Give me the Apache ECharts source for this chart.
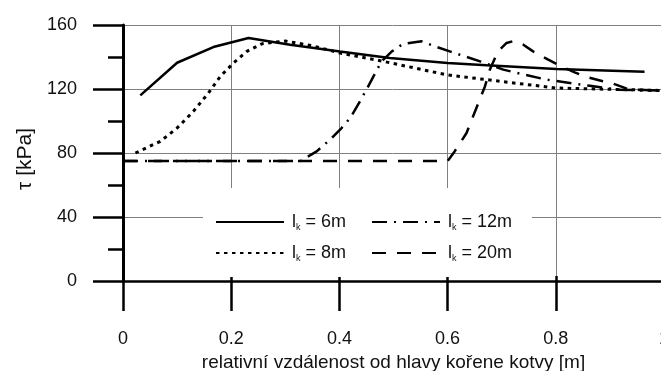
<!DOCTYPE html>
<html>
<head>
<meta charset="utf-8">
<script src="https://cdn.jsdelivr.net/npm/echarts@6/dist/echarts.min.js"></script>
<style>
  html, body { margin: 0; padding: 0; background: #fff; }
  #chart { width: 661px; height: 371px; }
</style>
</head>
<body>
<div id="chart"></div>
<script>
// l_k = 6m
var x6 = [0.032, 0.1, 0.167, 0.232, 0.309, 0.401, 0.493, 0.6, 0.672, 0.801, 0.964];
var y6 = [116, 136.4, 146.2, 151.9, 147.7, 143.5, 139.4, 136.2, 134.8, 132.5, 130.8];
// l_k = 8m
var x8 = [0.023, 0.069, 0.1, 0.13, 0.158, 0.18, 0.204, 0.229, 0.257, 0.3, 0.35, 0.401, 0.481, 0.598, 0.697, 0.801, 0.992];
var y8 = [80, 87.3, 95.6, 106, 117.5, 127.9, 136.2, 143.5, 148.3, 150, 147, 142.5, 137.3, 128.9, 124.8, 120.6, 119.1];
// l_k = 12m
var x12 = [0, 0.328, 0.358, 0.386, 0.404, 0.42, 0.438, 0.45, 0.463, 0.478, 0.497, 0.518, 0.552, 0.577, 0.604, 0.632, 0.66, 0.703, 0.743, 0.783, 0.826, 0.863, 0.912, 0.992];
var y12 = [75, 75, 81, 89.4, 95.6, 101.9, 112.3, 119.6, 127.9, 137.3, 143.5, 148.3, 149.8, 146.6, 143.5, 140.4, 137.3, 132.1, 128.9, 125.8, 123.8, 122, 119.6, 119];
// l_k = 20m
var x20 = [0, 0.6, 0.613, 0.635, 0.657, 0.669, 0.678, 0.693, 0.709, 0.722, 0.74, 0.758, 0.786, 0.804, 0.835, 0.853, 0.887, 0.906, 0.937, 0.99];
var y20 = [75, 75, 81, 92.5, 111.3, 121.6, 132, 143.5, 148.8, 150, 147.7, 143.5, 138.3, 135.2, 130.4, 127.9, 124.8, 123.3, 119.6, 119.2];

var names = ['6m', '8m', '12m', '20m'];
var legendOrder = ['6m', '12m', '8m', '20m'];

var font = 'Liberation Sans';

function pairs(xs, ys) {
  return xs.map(function (x, i) { return [x, ys[i]]; });
}

var chart = echarts.init(document.getElementById('chart'));

var option = {
  animation: false,
  backgroundColor: '#fff',
  grid: { left: 123, top: 25, right: -3, bottom: 90, outerBoundsMode: 'none' },
  legend: {
    data: legendOrder,
    left: 203,
    top: 188,
    width: 320,
    backgroundColor: '#fff',
    padding: [24, 6, 14, 12],
    itemGap: 11,
    itemWidth: 68,
    itemHeight: 14,
    itemStyle: { opacity: 0 },
    formatter: function (name) { return 'l{k|k} = ' + name; },
    textStyle: {
      fontFamily: font,
      fontSize: 18,
      color: '#111',
      lineHeight: 20,
      padding: [0, 14, 0, 3],
      rich: {
        k: { fontFamily: font, fontSize: 9, lineHeight: 9, verticalAlign: 'bottom', color: '#111' }
      }
    }
  },
  xAxis: [{
    type: 'value',
    min: 0,
    max: 1,
    interval: 0.2,
    name: 'relativní vzdálenost od hlavy kořene kotvy [m]',
    nameLocation: 'middle',
    nameGap: 71,
    nameTextStyle: { fontFamily: font, fontSize: 19, color: '#111' },
    axisLine: { show: true, lineStyle: { color: '#000', width: 2.5 } },
    axisTick: { show: true, length: 30, lineStyle: { color: '#000', width: 2.5 } },
    axisLabel: { fontFamily: font, fontSize: 18, color: '#111', margin: 49 },
    splitLine: { show: true, lineStyle: { color: '#808080', width: 1 } }
  }, {
    type: 'value',
    min: 0,
    max: 1,
    interval: 0.2,
    position: 'bottom',
    axisLine: { show: false },
    axisTick: { show: true, inside: true, length: 5, lineStyle: { color: '#000', width: 2.5 } },
    axisLabel: { show: false },
    splitLine: { show: false }
  }],
  yAxis: {
    type: 'value',
    min: 0,
    max: 160,
    interval: 40,
    name: 'τ [kPa]',
    nameLocation: 'middle',
    nameGap: 86,
    nameTextStyle: { fontFamily: font, fontSize: 21, color: '#111', padding: [0, 12, 0, 0] },
    axisLine: { show: true, lineStyle: { color: '#000', width: 3 } },
    axisTick: { show: true, length: 30, lineStyle: { color: '#000', width: 2.5 } },
    minorTick: { show: true, splitNumber: 2, length: 15, lineStyle: { color: '#000', width: 2.5 } },
    axisLabel: { fontFamily: font, fontSize: 18, color: '#111', margin: 46 },
    splitLine: { show: true, lineStyle: { color: '#808080', width: 1 } }
  },
  series: [{
    name: names[0],
    type: 'line',
    symbol: 'none',
    data: pairs(x6, y6),
    lineStyle: { color: '#000', width: 2.5, type: 'solid' },
    itemStyle: { color: '#000' }
  }, {
    name: names[1],
    type: 'line',
    symbol: 'none',
    data: pairs(x8, y8),
    lineStyle: { color: '#000', width: 3, type: [3.5, 4.5] },
    itemStyle: { color: '#000' }
  }, {
    name: names[2],
    type: 'line',
    symbol: 'none',
    data: pairs(x12, y12),
    lineStyle: { color: '#000', width: 2.5, type: [15, 7, 2, 7] },
    itemStyle: { color: '#000' }
  }, {
    name: names[3],
    type: 'line',
    symbol: 'none',
    data: pairs(x20, y20),
    lineStyle: { color: '#000', width: 2.5, type: [14, 11] },
    itemStyle: { color: '#000' }
  }]
};

chart.setOption(option);
</script>
</body>
</html>
